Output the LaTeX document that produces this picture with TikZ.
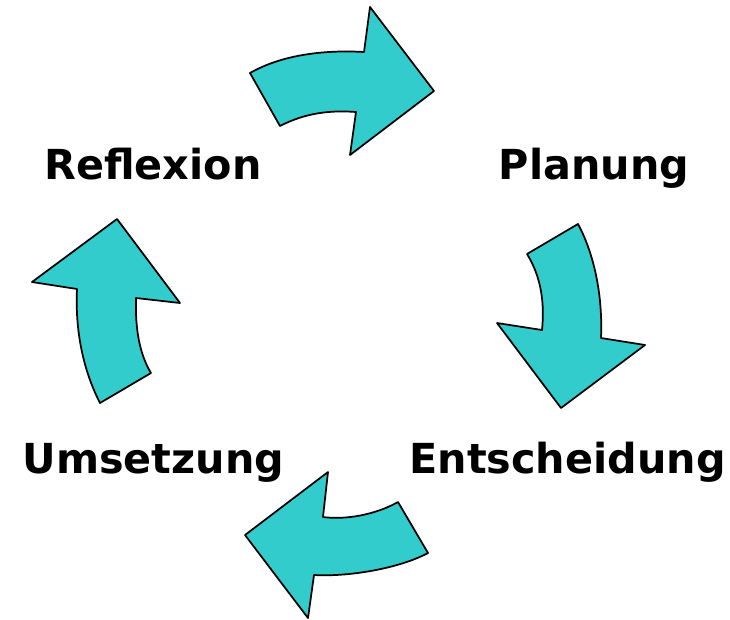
\documentclass[tikz,border=0pt]{standalone}
\usepackage{fontspec}
\setmainfont{DejaVu Sans}
\definecolor{tuerkis}{RGB}{51,204,204}
\tikzset{
  pfeil/.style={fill=tuerkis,draw=black,line width=1.3pt,line join=round},
  phase/.style={font=\fontsize{31}{36}\selectfont\bfseries,inner sep=0pt,anchor=base}
}
\begin{document}
\begin{tikzpicture}[x=0.75pt,y=-0.75pt]
\useasboundingbox (0,0) rectangle (730,619);
\draw[pfeil] (250,73) .. controls (285,53) and (330,50) .. (364,52) -- (370,7) -- (434,91) -- (350,155) -- (356,112) .. controls (330,110) and (305,113) .. (280,126) -- cycle;
\draw[pfeil] (578,224) .. controls (592,250) and (603,290) .. (601,338) -- (645,345) -- (561,408) -- (497,323) -- (542,330) .. controls (545,300) and (540,275) .. (527,254) -- cycle;
\draw[pfeil] (428,553) .. controls (400,568) and (350,577) .. (314,575) -- (308,618) -- (245,535) -- (328,472) -- (323,517) .. controls (345,520) and (375,515) .. (398,502) -- cycle;
\draw[pfeil] (100,403) .. controls (83,370) and (75,330) .. (77,289) -- (32,282) -- (117,219) -- (180,303) -- (136,298) .. controls (135,330) and (140,355) .. (151,373) -- cycle;
\node[phase] (reflexion) at (153,179) {Reflexion};
\node[phase] (planung) at (594,179) {Planung};
\node[phase] (umsetzung) at (153.5,473) {Umsetzung};
\node[phase] (entscheidung) at (567.5,473) {Entscheidung};
\end{tikzpicture}
\end{document}
